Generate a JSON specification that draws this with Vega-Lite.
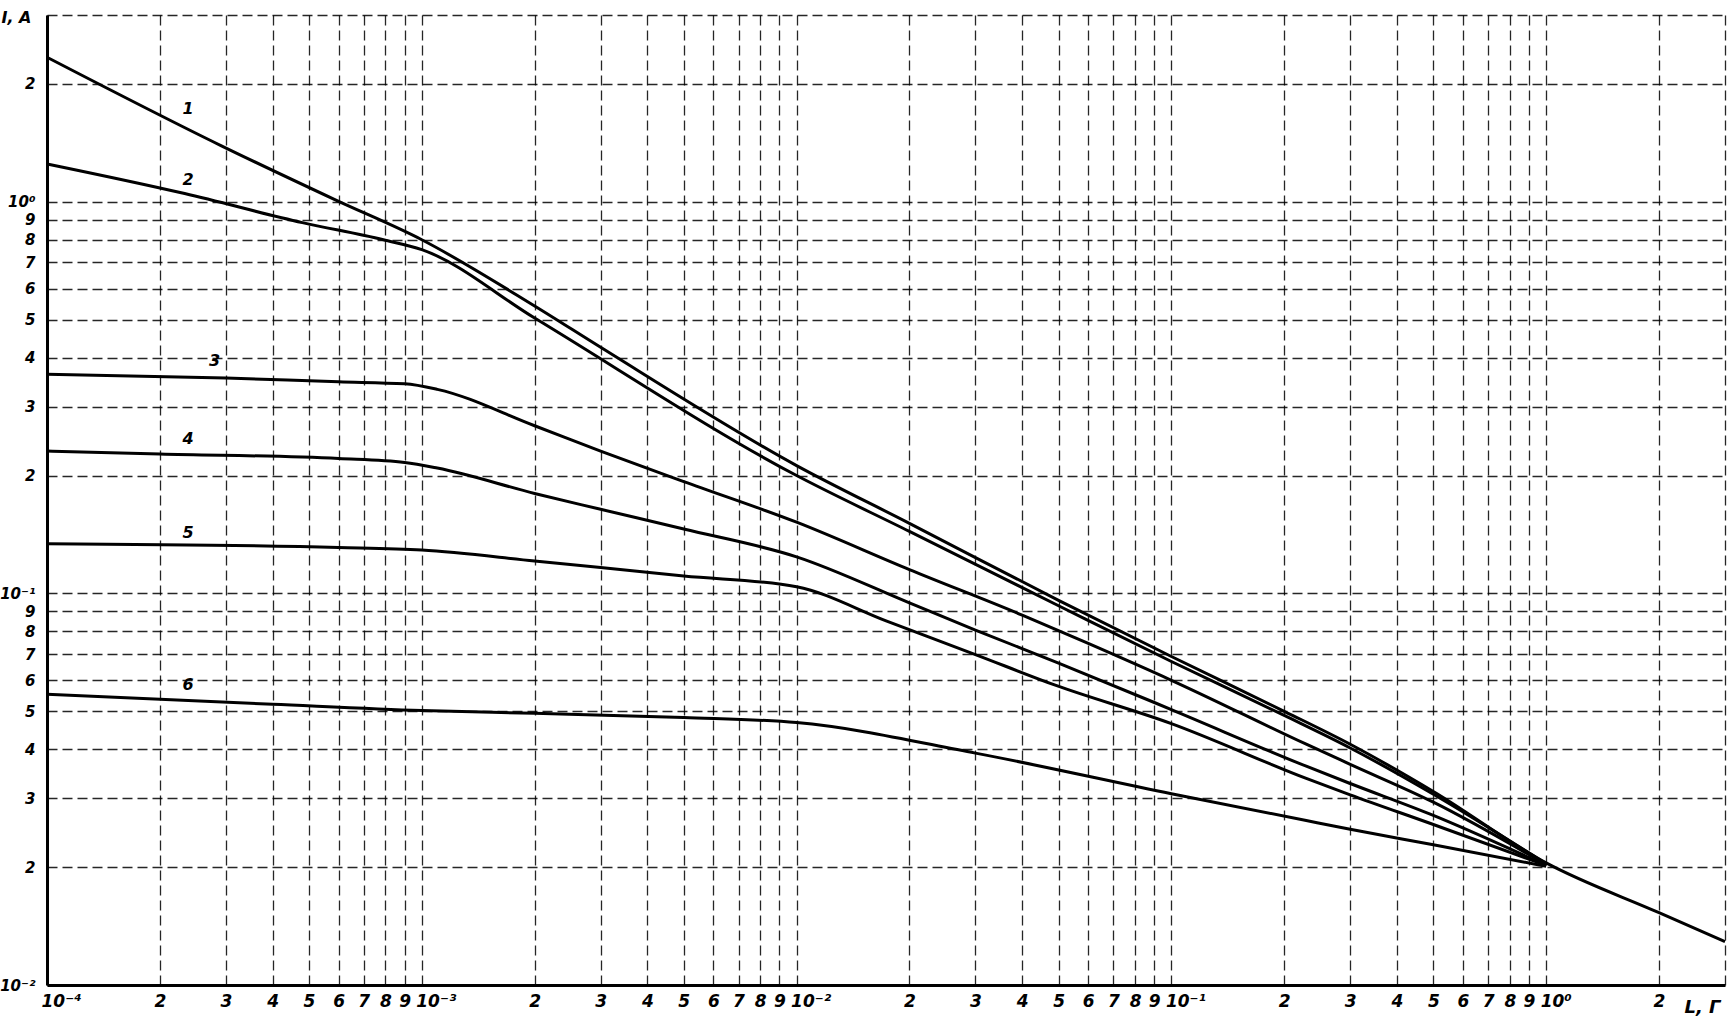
{
  "$schema": "https://vega.github.io/schema/vega-lite/v6.json",
  "width": 1678,
  "height": 970,
  "autosize": {"type": "none"},
  "padding": {"left": 47, "top": 15, "right": 4, "bottom": 42},
  "background": "white",
  "config": {"view": {"stroke": null}},
  "datasets": {
    "curves": [
      {"curve": "1", "L": 0.0001, "I": 2.34},
      {"curve": "1", "L": 0.000292, "I": 1.39},
      {"curve": "1", "L": 0.00059, "I": 1.01},
      {"curve": "1", "L": 0.001, "I": 0.80},
      {"curve": "1", "L": 0.002, "I": 0.542},
      {"curve": "1", "L": 0.003, "I": 0.425},
      {"curve": "1", "L": 0.01, "I": 0.212},
      {"curve": "1", "L": 0.02, "I": 0.151},
      {"curve": "1", "L": 0.05, "I": 0.096},
      {"curve": "1", "L": 0.1, "I": 0.069},
      {"curve": "1", "L": 0.2, "I": 0.050},
      {"curve": "1", "L": 0.3, "I": 0.0412},
      {"curve": "1", "L": 0.5, "I": 0.0312},
      {"curve": "1", "L": 1, "I": 0.0205},
      {"curve": "1", "L": 2, "I": 0.0153},
      {"curve": "1", "L": 3, "I": 0.0129},
      {"curve": "2", "L": 0.0001, "I": 1.25},
      {"curve": "2", "L": 0.000233, "I": 1.05},
      {"curve": "2", "L": 0.00048, "I": 0.885},
      {"curve": "2", "L": 0.00079, "I": 0.80},
      {"curve": "2", "L": 0.001, "I": 0.755},
      {"curve": "2", "L": 0.002, "I": 0.505},
      {"curve": "2", "L": 0.01, "I": 0.20},
      {"curve": "2", "L": 0.02, "I": 0.144},
      {"curve": "2", "L": 0.05, "I": 0.093},
      {"curve": "2", "L": 0.1, "I": 0.067},
      {"curve": "2", "L": 0.2, "I": 0.0488},
      {"curve": "2", "L": 0.3, "I": 0.0403},
      {"curve": "2", "L": 0.5, "I": 0.0307},
      {"curve": "2", "L": 1, "I": 0.0204},
      {"curve": "3", "L": 0.0001, "I": 0.363},
      {"curve": "3", "L": 0.0003, "I": 0.355},
      {"curve": "3", "L": 0.0006, "I": 0.347},
      {"curve": "3", "L": 0.0009, "I": 0.343},
      {"curve": "3", "L": 0.0011, "I": 0.332},
      {"curve": "3", "L": 0.002, "I": 0.268},
      {"curve": "3", "L": 0.003, "I": 0.231},
      {"curve": "3", "L": 0.005, "I": 0.193},
      {"curve": "3", "L": 0.01, "I": 0.152},
      {"curve": "3", "L": 0.02, "I": 0.115},
      {"curve": "3", "L": 0.04, "I": 0.088},
      {"curve": "3", "L": 0.06, "I": 0.0745},
      {"curve": "3", "L": 0.1, "I": 0.060},
      {"curve": "3", "L": 0.229, "I": 0.0412},
      {"curve": "3", "L": 0.3, "I": 0.0366},
      {"curve": "3", "L": 0.5, "I": 0.0293},
      {"curve": "3", "L": 1, "I": 0.0203},
      {"curve": "4", "L": 0.0001, "I": 0.231},
      {"curve": "4", "L": 0.0002, "I": 0.227},
      {"curve": "4", "L": 0.0006, "I": 0.221},
      {"curve": "4", "L": 0.0009, "I": 0.216},
      {"curve": "4", "L": 0.0011, "I": 0.209},
      {"curve": "4", "L": 0.002, "I": 0.180},
      {"curve": "4", "L": 0.003, "I": 0.164},
      {"curve": "4", "L": 0.005, "I": 0.146},
      {"curve": "4", "L": 0.01, "I": 0.124},
      {"curve": "4", "L": 0.02, "I": 0.0946},
      {"curve": "4", "L": 0.03, "I": 0.0806},
      {"curve": "4", "L": 0.05, "I": 0.0664},
      {"curve": "4", "L": 0.1, "I": 0.0505},
      {"curve": "4", "L": 0.229, "I": 0.0362},
      {"curve": "4", "L": 0.3, "I": 0.0327},
      {"curve": "4", "L": 0.5, "I": 0.0271},
      {"curve": "4", "L": 1, "I": 0.0202},
      {"curve": "5", "L": 0.0001, "I": 0.134},
      {"curve": "5", "L": 0.0006, "I": 0.131},
      {"curve": "5", "L": 0.001, "I": 0.129},
      {"curve": "5", "L": 0.002, "I": 0.121},
      {"curve": "5", "L": 0.003, "I": 0.1164},
      {"curve": "5", "L": 0.005, "I": 0.1108},
      {"curve": "5", "L": 0.01, "I": 0.104},
      {"curve": "5", "L": 0.0174, "I": 0.085},
      {"curve": "5", "L": 0.03, "I": 0.0698},
      {"curve": "5", "L": 0.049, "I": 0.0583},
      {"curve": "5", "L": 0.1, "I": 0.0465},
      {"curve": "5", "L": 0.229, "I": 0.0337},
      {"curve": "5", "L": 0.3, "I": 0.0306},
      {"curve": "5", "L": 0.5, "I": 0.0257},
      {"curve": "5", "L": 1, "I": 0.0202},
      {"curve": "6", "L": 0.0001, "I": 0.0553},
      {"curve": "6", "L": 0.0004, "I": 0.0521},
      {"curve": "6", "L": 0.001, "I": 0.0502},
      {"curve": "6", "L": 0.002, "I": 0.0494},
      {"curve": "6", "L": 0.005, "I": 0.0482},
      {"curve": "6", "L": 0.01, "I": 0.0468},
      {"curve": "6", "L": 0.03, "I": 0.0391},
      {"curve": "6", "L": 0.1, "I": 0.0308},
      {"curve": "6", "L": 0.229, "I": 0.0263},
      {"curve": "6", "L": 0.3, "I": 0.025},
      {"curve": "6", "L": 0.5, "I": 0.0228},
      {"curve": "6", "L": 1, "I": 0.0201}
    ],
    "labels": [
      {"label": "1", "L": 0.000238, "I": 1.73},
      {"label": "2", "L": 0.000238, "I": 1.14},
      {"label": "3", "L": 0.00028, "I": 0.392},
      {"label": "4", "L": 0.000238, "I": 0.248},
      {"label": "5", "L": 0.000238, "I": 0.143},
      {"label": "6", "L": 0.000238, "I": 0.0583}
    ]
  },
  "layer": [
    {
      "data": {"name": "curves"},
      "mark": {"type": "line", "color": "black", "strokeWidth": 3, "interpolate": "monotone"},
      "encoding": {
        "x": {
          "field": "L", "type": "quantitative",
          "scale": {"type": "log", "domain": [0.0001, 3], "nice": false},
          "axis": {
            "values": [0.0001, 0.0002, 0.0003, 0.0004, 0.0005, 0.0006, 0.0007, 0.0008, 0.0009,
                       0.001, 0.002, 0.003, 0.004, 0.005, 0.006, 0.007, 0.008, 0.009,
                       0.01, 0.02, 0.03, 0.04, 0.05, 0.06, 0.07, 0.08, 0.09,
                       0.1, 0.2, 0.3, 0.4, 0.5, 0.6, 0.7, 0.8, 0.9, 1, 2, 3],
            "labelExpr": "datum.value == 0.0001 ? '10⁻⁴' : datum.value == 0.001 ? '10⁻³' : datum.value == 0.01 ? '10⁻²' : datum.value == 0.1 ? '10⁻¹' : datum.value == 1 ? '10⁰' : datum.value == 3 ? '' : slice(format(datum.value, '.0e'), 0, 1)",
            "labelAlign": {"condition": {"test": "datum.value == 0.0001 || datum.value == 0.001 || datum.value == 0.01 || datum.value == 0.1 || datum.value == 1", "value": "left"}, "value": "center"},
            "labelOffset": {"condition": {"test": "datum.value == 0.0001 || datum.value == 0.001 || datum.value == 0.01 || datum.value == 0.1 || datum.value == 1", "value": -6}, "value": 0},
            "labelFont": "DejaVu Sans", "labelFontSize": 17, "labelFontStyle": "italic", "labelFontWeight": "bold", "labelColor": "black",
            "labelPadding": 8, "ticks": false, "labelOverlap": false, "labelFlush": false, "labelBound": false,
            "grid": true, "gridColor": "black", "gridDash": [10, 5], "gridWidth": 1.3, "gridOpacity": 0.85,
            "domainColor": "black", "domainWidth": 3,
            "title": "L, Г", "titleX": 1637, "titleY": 22, "titleAlign": "left", "titleBaseline": "middle", "titleAngle": 0,
            "titleFont": "DejaVu Sans", "titleFontSize": 18, "titleFontStyle": "italic", "titleFontWeight": "bold", "titleColor": "black"
          }
        },
        "y": {
          "field": "I", "type": "quantitative",
          "scale": {"type": "log", "domain": [0.01, 3], "nice": false},
          "axis": {
            "values": [0.01, 0.02, 0.03, 0.04, 0.05, 0.06, 0.07, 0.08, 0.09,
                       0.1, 0.2, 0.3, 0.4, 0.5, 0.6, 0.7, 0.8, 0.9, 1, 2, 3],
            "labelExpr": "datum.value == 0.01 ? '10⁻²' : datum.value == 0.1 ? '10⁻¹' : datum.value == 1 ? '10⁰' : datum.value == 3 ? '' : slice(format(datum.value, '.0e'), 0, 1)",
            "labelFont": "DejaVu Sans", "labelFontSize": 15, "labelFontStyle": "italic", "labelFontWeight": "bold", "labelColor": "black",
            "labelPadding": 12, "ticks": false, "labelOverlap": false, "labelFlush": false, "labelBound": false,
            "grid": true, "gridColor": "black", "gridDash": [10, 5], "gridWidth": 1.3, "gridOpacity": 0.85,
            "domainColor": "black", "domainWidth": 3,
            "title": "I, A", "titleX": -46, "titleY": 2, "titleAlign": "left", "titleBaseline": "middle", "titleAngle": 0,
            "titleFont": "DejaVu Sans", "titleFontSize": 16, "titleFontStyle": "italic", "titleFontWeight": "bold", "titleColor": "black"
          }
        },
        "detail": {"field": "curve", "type": "nominal"}
      }
    },
    {
      "data": {"name": "labels"},
      "mark": {"type": "text", "font": "DejaVu Sans", "fontSize": 16, "fontStyle": "italic", "fontWeight": "bold", "color": "black", "baseline": "middle", "align": "center"},
      "encoding": {
        "x": {"field": "L", "type": "quantitative"},
        "y": {"field": "I", "type": "quantitative"},
        "text": {"field": "label", "type": "nominal"}
      }
    }
  ]
}
